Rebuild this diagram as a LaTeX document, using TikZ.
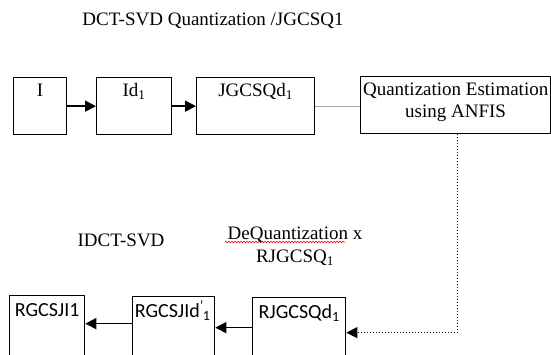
\documentclass[tikz,border=0pt]{standalone}
\usepackage{fontspec}
\setmainfont{Liberation Serif}
\newfontfamily\boxfont{Carlito}
\usetikzlibrary{calc, positioning}
\usetikzlibrary{arrows.meta}
\usetikzlibrary{decorations.pathmorphing}

\tikzset{
  blk/.style={draw, line width=1.3pt, inner sep=0pt, anchor=north west,
    minimum height=57pt, text height=19pt, text depth=38pt,
    font=\fontsize{19}{22}\selectfont},
  blkR/.style={blk, minimum height=64pt, text height=21pt, text depth=43pt,
    font=\boxfont\fontsize{20}{24}\selectfont},
  arr/.style={-{Triangle[length=11pt,width=11pt]}, line width=1.6pt},
  lnk/.style={gray!70, line width=1.2pt},
  lbl/.style={font=\fontsize{19}{23}\selectfont, align=center},
}

\begin{document}
\begin{tikzpicture}[x=1pt, y=-1pt]
\clip (0,0) rectangle (551,354);
\coordinate (Ptitle) at (213,21);
\coordinate (Pidct) at (121,240);
\coordinate (Pdeq) at (295,246);
\coordinate (Wstart) at (225,242);
\coordinate (Wend) at (345,242);

\node[blk, minimum width=53pt] (nI) at (13,77) {I};
\node[blk, minimum width=75pt] (nId) at (96,77) {Id\textsubscript{1}};
\node[blk, minimum width=118pt] (nJG) at (196,77) {JGCSQd\textsubscript{1}};
\node[blk, minimum width=190pt, align=center, text height=41pt, text depth=16pt] (nQE) at (360,76) {Quantization Estimation\\using ANFIS};

\node[blkR, minimum width=75pt] (nRJ) at (9,295) {RGCSJI1};
\node[blkR, minimum width=82pt] (nRJd) at (132,296) {RGCSJId\textsuperscript{\textquoteright}\kern-1pt\textsubscript{1}\kern2pt};
\node[blkR, minimum width=93pt] (nRQ) at (252,297) {RJGCSQd\textsubscript{1}};

\draw[arr] (nI.east) -- (nId.west);
\draw[arr] (nId.east) -- (nJG.west);
\draw[lnk] (nJG.east) -- (nJG.east -| nQE.west);
\draw[gray!70, dotted, line width=1pt, -{Triangle[length=11pt,width=11pt]}, black]
  ([xshift=2pt]nQE.south) |- ([yshift=-3pt]nRQ.east);
\draw[arr] ([yshift=2pt]nRQ.west) -- ([yshift=1pt]nRJd.east);
\draw[arr] ([yshift=5pt]nRJd.west) -- ([yshift=4pt]nRJ.east);

\node[lbl] (tTitle) at (Ptitle) {DCT-SVD Quantization /JGCSQ1};
\node[lbl] (tIdct) at (Pidct) {IDCT-SVD};
\node[lbl] (tDeq) at (Pdeq) {DeQuantization x\\RJGCSQ\textsubscript{1}};
\draw[red, line width=0.6pt, decorate, decoration={snake, amplitude=0.8pt, segment length=3pt}]
  (Wstart) -- (Wend);
\end{tikzpicture}
\end{document}
